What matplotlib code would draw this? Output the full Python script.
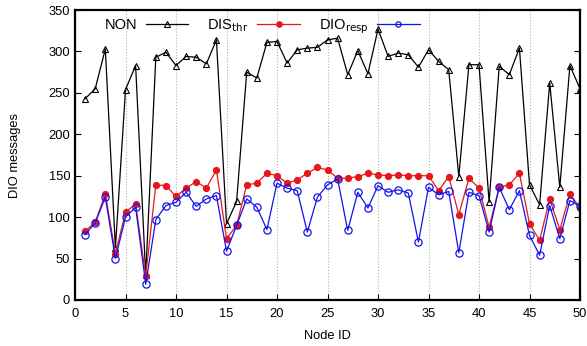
import matplotlib
matplotlib.use("Agg")
import matplotlib.pyplot as plt
from matplotlib.ticker import MultipleLocator

plt.rcParams['font.family'] = ['Liberation Sans', 'DejaVu Sans']

node_ids = list(range(1, 51))

non = [243, 255, 303, 63, 254, 283, 30, 293, 299, 283,
       294, 293, 285, 314, 92, 119, 275, 268, 311, 312,
       286, 302, 304, 305, 314, 316, 272, 301, 273, 327,
       294, 298, 296, 281, 302, 288, 278, 149, 284, 284,
       118, 282, 272, 304, 139, 115, 262, 136, 283, 255]

dis_thr = [83, 94, 128, 56, 106, 116, 29, 139, 138, 125,
           135, 143, 135, 157, 74, 90, 139, 141, 153, 150,
           141, 145, 153, 160, 157, 147, 147, 149, 153, 151,
           150, 151, 150, 150, 150, 132, 149, 103, 147, 135,
           88, 136, 139, 153, 92, 72, 122, 85, 128, 111]

dio_resp = [79, 93, 124, 50, 100, 112, 19, 97, 114, 118,
            130, 113, 122, 126, 59, 90, 122, 112, 85, 141,
            135, 132, 82, 124, 139, 146, 84, 130, 111, 138,
            130, 133, 129, 70, 136, 127, 131, 57, 130, 126,
            82, 136, 109, 132, 78, 54, 114, 74, 120, 113]

fig = plt.figure(figsize=(5.87, 3.46), dpi=100)
ax = fig.add_axes([0.1278, 0.133, 0.8603, 0.838])

ax.plot(node_ids, non, color='black', lw=0.9, marker='^', ms=4.5,
        mfc='none', mec='black', mew=0.8, label='NON')
ax.plot(node_ids, dis_thr, color='#e8161b', lw=0.9, marker='o', ms=4.2,
        mfc='#e8161b', mec='#e8161b', label='DIS$_{\\mathrm{thr}}$')
ax.plot(node_ids, dio_resp, color='#1212f0', lw=0.9, marker='o', ms=5.2,
        mfc='none', mec='#1212f0', mew=0.9, label='DIO$_{\\mathrm{resp}}$')

ax.set_xlim(0, 50)
ax.set_ylim(0, 350)
ax.xaxis.set_major_locator(MultipleLocator(5))
ax.yaxis.set_major_locator(MultipleLocator(50))
ax.tick_params(direction='in', labelsize=9.3, length=4, width=0.8,
               right=True, top=False)
ax.tick_params(axis='x', pad=6)
ax.grid(axis='x', linestyle=':', color='#b0b0b0', lw=0.8)
for s in ax.spines.values():
    s.set_linewidth(1.6)

ax.set_xlabel('Node ID', fontsize=9.3, labelpad=7)
ax.set_ylabel('DIO messages', fontsize=9.3, labelpad=20)

leg = ax.legend(loc='upper left', ncol=3, frameon=False, markerfirst=False,
                fontsize=10.5, handlelength=2.9, columnspacing=1.3,
                handletextpad=0.6, borderpad=0, borderaxespad=0,
                bbox_to_anchor=(0.059, 0.975))
for h in leg.legend_handles:
    h.set_markersize(3.8)

fig.savefig('out.png', dpi=100)
